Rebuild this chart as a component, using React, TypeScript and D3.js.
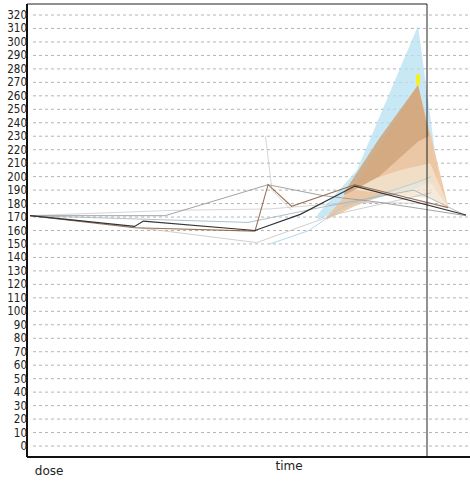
import React from "react";
import * as d3 from "d3";

type Pt = { t: number; v: number };
type Band = { t: number; lo: number; hi: number };

// y-axis ticks
const yTicks: number[] = d3.range(0, 330, 10);

// axis captions
const xLabels = [
  { text: "dose", t: -0.5 },
  { text: "time", t: 56.3 },
];

// upper/lower envelopes of the shaded ranges
const blueBand: Band[] = [
  { t: 66, lo: 168, hi: 172 },
  { t: 75, lo: 180, hi: 205 },
  { t: 89, lo: 192, hi: 312 },
  { t: 92.5, lo: 196, hi: 228 },
  { t: 93.5, lo: 200, hi: 202 },
];
const orangeBand: Band[] = [
  { t: 68, lo: 168, hi: 170 },
  { t: 74.5, lo: 178, hi: 194 },
  { t: 89, lo: 196, hi: 268 },
  { t: 91.8, lo: 196, hi: 232 },
  { t: 95.9, lo: 177, hi: 178 },
];
const brownBand: Band[] = [
  { t: 72, lo: 186, hi: 188 },
  { t: 80, lo: 200, hi: 228 },
  { t: 89, lo: 226, hi: 268 },
  { t: 91.5, lo: 230, hi: 232 },
];
const beigeBand: Band[] = [
  { t: 74.5, lo: 190, hi: 194 },
  { t: 85, lo: 186, hi: 205 },
  { t: 91.8, lo: 184, hi: 210 },
  { t: 95.9, lo: 177, hi: 179 },
];

// individual series
const seriesDark: Pt[] = [
  { t: 0, v: 171 }, { t: 24, v: 163 }, { t: 26, v: 167 }, { t: 51.6, v: 160 },
  { t: 62, v: 172 }, { t: 74.5, v: 193 }, { t: 100, v: 171.5 },
];
const seriesGray: Pt[] = [
  { t: 0, v: 171 }, { t: 31, v: 171 }, { t: 54.6, v: 194 }, { t: 67, v: 186 },
  { t: 80, v: 181 }, { t: 100, v: 171 },
];
const seriesBrown: Pt[] = [
  { t: 0, v: 171 }, { t: 24, v: 162 }, { t: 51.6, v: 159.5 }, { t: 54.6, v: 194 },
  { t: 60, v: 178 }, { t: 74.5, v: 194 }, { t: 95.9, v: 177 },
];
const seriesLight: Pt[] = [
  { t: 0, v: 171 }, { t: 33, v: 175 }, { t: 55, v: 176 }, { t: 74, v: 181 },
  { t: 92, v: 180 },
];
const seriesLow: Pt[] = [
  { t: 2, v: 171 }, { t: 30, v: 160 }, { t: 52, v: 151 }, { t: 70, v: 172 },
  { t: 92, v: 188 },
];
const seriesBlue: Pt[] = [
  { t: 55, v: 150 }, { t: 64, v: 160 }, { t: 72, v: 178 }, { t: 89, v: 196 },
  { t: 92, v: 200 },
];
const seriesSteel: Pt[] = [
  { t: 0, v: 171 }, { t: 50, v: 166 }, { t: 68, v: 178 }, { t: 88, v: 190 },
  { t: 100, v: 171 },
];
const seriesFaint: Pt[] = [
  { t: 54, v: 230 }, { t: 55.5, v: 190 }, { t: 60, v: 175 },
];
const seriesPeak: Pt[] = [
  { t: 89, v: 268 }, { t: 89, v: 276 },
];

const W = 470;
const H = 483;
const left = 27;
const plotTop = 4;
const plotBottom = 457;
const divider = 427;

export default function App() {
  const x = d3.scaleLinear().domain([0, 100]).range([30, 466]);
  const y = d3.scaleLinear().domain([0, 320]).range([446, 15]);

  const area = d3
    .area<Band>()
    .x((d) => x(d.t))
    .y0((d) => y(d.lo))
    .y1((d) => y(d.hi));
  const line = d3
    .line<Pt>()
    .x((d) => x(d.t))
    .y((d) => y(d.v));

  const lines: { data: Pt[]; color: string; w: number; o: number }[] = [
    { data: seriesFaint, color: "#bbb", w: 1, o: 0.6 },
    { data: seriesLow, color: "#bbb", w: 1, o: 0.7 },
    { data: seriesLight, color: "#ccc", w: 1, o: 0.8 },
    { data: seriesBlue, color: "#9fd0e6", w: 1, o: 0.8 },
    { data: seriesSteel, color: "#9fb0bd", w: 1, o: 0.8 },
    { data: seriesGray, color: "#999", w: 1, o: 0.9 },
    { data: seriesBrown, color: "#8a5a3a", w: 1.1, o: 0.85 },
    { data: seriesDark, color: "#333", w: 1.2, o: 1 },
  ];

  return (
    <svg
      width={W}
      height={H}
      style={{ position: "absolute", left: 0, top: 0, background: "#fff" }}
    >
      {/* grid */}
      {yTicks.map((t) => (
        <line
          key={"g" + t}
          x1={33}
          x2={W}
          y1={y(t)}
          y2={y(t)}
          stroke="#b4b4b4"
          strokeWidth={1}
          strokeDasharray="3,3"
        />
      ))}

      {/* shaded ranges */}
      <path d={area(blueBand) ?? ""} fill="#b7e0f2" opacity={0.75} />
      <path d={area(orangeBand) ?? ""} fill="#f1c196" opacity={0.85} />
      <path d={area(beigeBand) ?? ""} fill="#f3e4d0" opacity={0.8} />
      <path d={area(brownBand) ?? ""} fill="#cfa47a" opacity={0.85} />

      {lines.map((l, i) => (
        <path
          key={"l" + i}
          d={line(l.data) ?? ""}
          fill="none"
          stroke={l.color}
          strokeWidth={l.w}
          opacity={l.o}
        />
      ))}
      <path d={line(seriesPeak) ?? ""} stroke="#f5f020" strokeWidth={4} fill="none" />

      {/* frame */}
      <line x1={left} x2={divider} y1={plotTop} y2={plotTop} stroke="#222" strokeWidth={1} />
      <line x1={divider} x2={divider} y1={plotTop} y2={plotBottom} stroke="#222" strokeWidth={1} />
      <line x1={left} x2={left} y1={plotTop} y2={plotBottom} stroke="#111" strokeWidth={2} />
      <line x1={left} x2={W} y1={plotBottom} y2={plotBottom} stroke="#111" strokeWidth={2} />

      {/* tick labels */}
      {yTicks.map((t) => (
        <text
          key={"t" + t}
          x={left}
          y={y(t) + 4}
          textAnchor="end"
          fontFamily="'Liberation Sans Narrow', 'DejaVu Sans Condensed', sans-serif"
          fontSize={11.5}
          fill="#222"
        >
          {t}
        </text>
      ))}

      {xLabels.map((l) => (
        <text
          key={l.text}
          x={x(l.t) + (l.text === "dose" ? 7 : 0)}
          y={l.text === "dose" ? 475 : 470}
          fontFamily="'DejaVu Sans', sans-serif"
          fontSize={12}
          fill="#222"
        >
          {l.text}
        </text>
      ))}
    </svg>
  );
}
